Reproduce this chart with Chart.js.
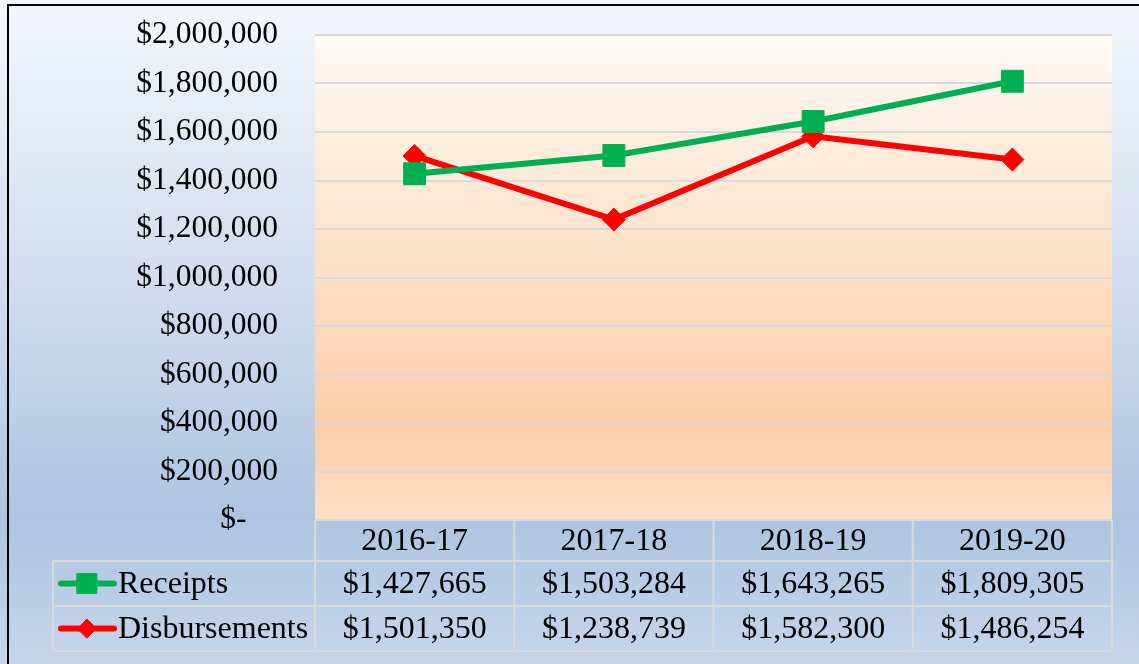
<!DOCTYPE html>
<html>
<head>
<meta charset="utf-8">
<script src="https://cdn.jsdelivr.net/npm/chart.js@4/dist/chart.umd.min.js"></script>
<style>
  body { margin: 0; background: #ffffff; }
  canvas { display: block; }
</style>
</head>
<body>
<canvas id="lineChart1" width="1139" height="664"></canvas>
<script>
var ctx1 = document.getElementById('lineChart1').getContext('2d');

// Chart data
var categories = ['2016-17', '2017-18', '2018-19', '2019-20'];
var receipts = [1427665, 1503284, 1643265, 1809305];
var disbursements = [1501350, 1238739, 1582300, 1486254];
var seriesNames = ['Receipts', 'Disbursements'];

var fontFamily = '"Liberation Serif", "Times New Roman", serif';
var gridColor = '#d9d9d9';

function money(v) {
    if (v === 0) return '$-    ';
    return '$' + Math.round(v).toLocaleString('en-US');
}

// Backgrounds: blue gradient for the whole chart, peach gradient for the plot
var backgroundPlugin = {
    id: 'backgrounds',
    beforeDraw: function(chart) {
        var c = chart.ctx;
        var area = chart.chartArea;
        c.save();
        var g = c.createLinearGradient(0, 0, 0, chart.height);
        g.addColorStop(0, '#f4f7fc');
        g.addColorStop(0.5, '#cad8ec');
        g.addColorStop(0.78, '#aec4e2');
        g.addColorStop(1, '#c6d5ea');
        c.fillStyle = g;
        c.fillRect(0, 0, chart.width, chart.height);

        var p = c.createLinearGradient(0, area.top, 0, area.bottom);
        p.addColorStop(0, '#fffaf5');
        p.addColorStop(0.8, '#fbcea8');
        p.addColorStop(1, '#fddfc6');
        c.fillStyle = p;
        c.fillRect(area.left, area.top, area.right - area.left, area.bottom - area.top);

        // outer border (cropped on the right and bottom)
        c.strokeStyle = '#000000';
        c.lineWidth = 2;
        c.strokeRect(8, 5, chart.width + 20, chart.height + 20);
        c.restore();
    }
};

// Data table below the plot, laid out from the x scale
var dataTablePlugin = {
    id: 'dataTable',
    afterDraw: function(chart) {
        var c = chart.ctx;
        var area = chart.chartArea;
        var x = chart.scales.x;
        var half = (x.getPixelForValue(1) - x.getPixelForValue(0)) / 2;
        var tableLeft = 53;
        var rowTops = [area.bottom, area.bottom + 41, area.bottom + 86, area.bottom + 131];
        var rows = [receipts, disbursements];
        var i, j;

        c.save();
        c.strokeStyle = gridColor;
        c.lineWidth = 2;
        c.beginPath();
        for (i = 0; i < categories.length; i++) {
            var cx = x.getPixelForValue(i);
            c.moveTo(cx - half, rowTops[0]);
            c.lineTo(cx - half, rowTops[3]);
        }
        c.moveTo(area.right, rowTops[0]);
        c.lineTo(area.right, rowTops[3]);
        c.moveTo(tableLeft, rowTops[1]);
        c.lineTo(tableLeft, rowTops[3]);
        for (j = 1; j < rowTops.length; j++) {
            c.moveTo(tableLeft, rowTops[j]);
            c.lineTo(area.right, rowTops[j]);
        }
        c.stroke();

        c.fillStyle = '#000000';
        c.font = '32px ' + fontFamily;
        c.textAlign = 'center';
        c.textBaseline = 'middle';
        for (i = 0; i < categories.length; i++) {
            c.fillText(categories[i], x.getPixelForValue(i), (rowTops[0] + rowTops[1]) / 2 + 1);
            for (j = 0; j < rows.length; j++) {
                c.fillText(money(rows[j][i]), x.getPixelForValue(i), (rowTops[j + 1] + rowTops[j + 2]) / 2 + 1);
            }
        }

        // legend keys in the first column
        for (j = 0; j < chart.data.datasets.length; j++) {
            var ds = chart.data.datasets[j];
            var ky = (rowTops[j + 1] + rowTops[j + 2]) / 2;
            c.strokeStyle = ds.borderColor;
            c.lineWidth = 6;
            c.lineCap = 'round';
            c.beginPath();
            c.moveTo(61, ky);
            c.lineTo(114, ky);
            c.stroke();
            c.fillStyle = ds.pointBackgroundColor;
            c.strokeStyle = ds.pointBorderColor;
            c.lineWidth = 1;
            Chart.helpers.drawPoint(c, {
                pointStyle: ds.pointStyle,
                radius: ds.pointStyle === 'rect' ? 14 : 9.5,
                rotation: 0,
                borderWidth: 1
            }, 87, ky);
            c.fillStyle = '#000000';
            c.textAlign = 'left';
            c.fillText(seriesNames[j], 118, ky + 1);
        }
        c.restore();
    }
};

var chartData = {
    labels: categories,
    datasets: [{
        label: seriesNames[0],
        data: receipts,
        borderColor: '#00b050',
        borderWidth: 6,
        pointStyle: 'rect',
        pointRadius: 15.5,
        pointBackgroundColor: '#00b050',
        pointBorderColor: '#00b050',
        pointBorderWidth: 1,
        tension: 0,
        fill: false
    }, {
        label: seriesNames[1],
        data: disbursements,
        borderColor: '#ff0000',
        borderWidth: 6,
        pointStyle: 'rectRot',
        pointRadius: 11.5,
        pointBackgroundColor: '#ff0000',
        pointBorderColor: '#ff0000',
        pointBorderWidth: 1,
        tension: 0,
        fill: false
    }]
};

var chartOptions = {
    responsive: false,
    animation: false,
    devicePixelRatio: 1,
    layout: {
        padding: { left: 0, right: 27, top: 35, bottom: 144 }
    },
    plugins: {
        legend: { display: false },
        tooltip: { enabled: false }
    },
    scales: {
        x: {
            display: false,
            offset: true
        },
        y: {
            min: 0,
            max: 2000000,
            afterFit: function(scale) {
                scale.width = 315; // plot starts at x = 315
                scale.paddingTop = 0; // tick padding would otherwise push the plot down
                scale.paddingBottom = 0;
            },
            border: { display: false },
            grid: {
                color: gridColor,
                lineWidth: 2,
                drawTicks: false
            },
            ticks: {
                stepSize: 200000,
                padding: 37,
                color: '#000000',
                font: { family: fontFamily, size: 31.5 },
                callback: function(value) {
                    return money(value);
                }
            }
        }
    }
};

var lineChart = new Chart(ctx1, {
    type: 'line',
    data: chartData,
    options: chartOptions,
    plugins: [backgroundPlugin, dataTablePlugin]
});
</script>
</body>
</html>
